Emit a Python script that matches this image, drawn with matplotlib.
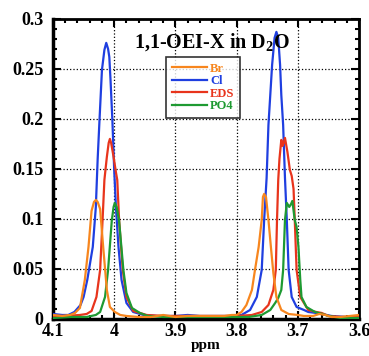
import numpy as np
import matplotlib
matplotlib.use("Agg")
import matplotlib.pyplot as plt
from matplotlib.ticker import MultipleLocator

plt.rcParams['font.family'] = ['Liberation Serif', 'DejaVu Serif']
plt.rcParams['font.weight'] = 'bold'
plt.rcParams['mathtext.fontset'] = 'custom'
plt.rcParams['mathtext.bf'] = 'Liberation Serif:bold'
plt.rcParams['mathtext.rm'] = 'Liberation Serif:bold'

# spectra: (ppm, intensity)
br_ppm = [4.100, 4.085, 4.072, 4.064, 4.056, 4.048, 4.042, 4.037, 4.033, 4.030, 4.027,
          4.023, 4.018, 4.012, 4.007, 3.999, 3.990, 3.980, 3.960, 3.940, 3.920, 3.900,
          3.880, 3.860, 3.840, 3.820, 3.808, 3.800, 3.792, 3.784, 3.775, 3.770, 3.764,
          3.759, 3.757, 3.755, 3.752, 3.748, 3.744, 3.740, 3.735, 3.727, 3.715, 3.700,
          3.690, 3.675, 3.665, 3.655, 3.645, 3.630, 3.615, 3.600]
br_val = [0.004, 0.003, 0.004, 0.006, 0.011, 0.039, 0.072, 0.108, 0.117, 0.119, 0.117,
          0.110, 0.072, 0.029, 0.012, 0.007, 0.004, 0.003, 0.002, 0.002, 0.004, 0.002,
          0.003, 0.003, 0.003, 0.003, 0.004, 0.004, 0.007, 0.014, 0.029, 0.049, 0.072,
          0.099, 0.122, 0.125, 0.122, 0.099, 0.072, 0.046, 0.022, 0.009, 0.005, 0.004,
          0.003, 0.003, 0.005, 0.004, 0.002, 0.002, 0.003, 0.004]

cl_ppm = [4.100, 4.085, 4.075, 4.065, 4.055, 4.050, 4.044, 4.035, 4.030, 4.027, 4.024,
          4.020, 4.016, 4.013, 4.010, 4.008, 4.006, 4.003, 4.000, 3.997, 3.993, 3.988,
          3.980, 3.969, 3.952, 3.930, 3.900, 3.880, 3.860, 3.830, 3.810, 3.792, 3.778,
          3.767, 3.759, 3.755, 3.751, 3.748, 3.745, 3.742, 3.738, 3.735, 3.732, 3.729,
          3.727, 3.724, 3.721, 3.718, 3.715, 3.710, 3.702, 3.690, 3.683, 3.670, 3.661,
          3.645, 3.620, 3.600]
cl_val = [0.005, 0.004, 0.004, 0.007, 0.014, 0.022, 0.039, 0.072, 0.112, 0.160, 0.199,
          0.249, 0.269, 0.276, 0.270, 0.262, 0.239, 0.199, 0.149, 0.110, 0.072, 0.039,
          0.016, 0.007, 0.004, 0.003, 0.003, 0.004, 0.003, 0.003, 0.003, 0.004, 0.009,
          0.022, 0.049, 0.099, 0.141, 0.194, 0.224, 0.254, 0.281, 0.287, 0.281, 0.254,
          0.224, 0.194, 0.141, 0.099, 0.049, 0.022, 0.012, 0.009, 0.007, 0.006, 0.005,
          0.003, 0.002, 0.002]

eds_ppm = [4.100, 4.080, 4.056, 4.045, 4.037, 4.029, 4.023, 4.019, 4.016, 4.012, 4.009,
           4.007, 4.005, 4.001, 3.997, 3.995, 3.992, 3.986, 3.980, 3.969, 3.947, 3.920,
           3.880, 3.840, 3.800, 3.775, 3.759, 3.748, 3.740, 3.736, 3.734, 3.732, 3.730,
           3.727, 3.725, 3.723, 3.721, 3.717, 3.713, 3.710, 3.707, 3.705, 3.702, 3.696,
           3.683, 3.670, 3.661, 3.650, 3.630, 3.600]
eds_val = [0.003, 0.003, 0.004, 0.005, 0.008, 0.022, 0.049, 0.099, 0.139, 0.162, 0.176,
           0.180, 0.176, 0.162, 0.146, 0.139, 0.099, 0.049, 0.022, 0.008, 0.004, 0.003,
           0.003, 0.003, 0.003, 0.004, 0.007, 0.014, 0.029, 0.049, 0.099, 0.139, 0.160,
           0.179, 0.173, 0.176, 0.181, 0.167, 0.149, 0.143, 0.130, 0.099, 0.049, 0.022,
           0.009, 0.007, 0.006, 0.003, 0.002, 0.002]

po4_ppm = [4.100, 4.070, 4.045, 4.030, 4.023, 4.015, 4.010, 4.004, 4.001, 3.999, 3.996,
           3.992, 3.985, 3.980, 3.971, 3.958, 3.945, 3.920, 3.880, 3.840, 3.800, 3.780,
           3.759, 3.745, 3.737, 3.732, 3.727, 3.724, 3.721, 3.718, 3.714, 3.711, 3.709,
           3.705, 3.702, 3.699, 3.696, 3.694, 3.686, 3.672, 3.660, 3.650, 3.630, 3.600]
po4_val = [0.001, 0.002, 0.002, 0.004, 0.007, 0.022, 0.049, 0.098, 0.112, 0.116, 0.112,
           0.098, 0.049, 0.026, 0.011, 0.006, 0.003, 0.002, 0.002, 0.002, 0.002, 0.002,
           0.004, 0.009, 0.016, 0.021, 0.029, 0.049, 0.099, 0.116, 0.112, 0.115, 0.118,
           0.099, 0.092, 0.072, 0.039, 0.022, 0.012, 0.007, 0.005, 0.003, 0.001, 0.001]

fig = plt.figure(figsize=(3.69, 3.56), dpi=100)
ax = fig.add_axes([0.1436, 0.104, 0.8294, 0.843])

ax.plot(cl_ppm, cl_val, color='#1f3fe0', lw=1.6, label='Cl', zorder=3)
ax.plot(eds_ppm, eds_val, color='#e8341c', lw=1.6, label='EDS', zorder=4)
ax.plot(po4_ppm, po4_val, color='#1e9a32', lw=1.6, label='PO4', zorder=5)
ax.plot(br_ppm, br_val, color='#f7861e', lw=1.6, label='Br', zorder=6)

ax.set_xlim(4.1, 3.6)
ax.set_ylim(0, 0.3)
ax.xaxis.set_major_locator(MultipleLocator(0.1))
ax.xaxis.set_minor_locator(MultipleLocator(0.02))
ax.yaxis.set_major_locator(MultipleLocator(0.05))
ax.yaxis.set_minor_locator(MultipleLocator(0.01))
ax.set_xticks([4.1, 4.0, 3.9, 3.8, 3.7, 3.6])
ax.set_xticklabels(['4.1', '4', '3.9', '3.8', '3.7', '3.6'])
ax.set_yticks([0, 0.05, 0.1, 0.15, 0.2, 0.25, 0.3])
ax.set_yticklabels(['0', '0.05', '0.1', '0.15', '0.2', '0.25', '0.3'])
ax.tick_params(which='both', direction='in', top=True, right=True, labelsize=13,
               width=1.5)
ax.tick_params(axis='x', pad=3)
ax.tick_params(axis='y', pad=7)
ax.tick_params(which='major', length=6)
ax.tick_params(which='minor', length=3)
for lab in ax.get_xticklabels() + ax.get_yticklabels():
    lab.set_fontweight('bold')
ax.grid(True, which='major', color='black', linestyle=':', lw=0.9)
for side in ['left', 'bottom']:
    ax.spines[side].set_linewidth(2.5)
for side in ['top', 'right']:
    ax.spines[side].set_linewidth(2)

ax.set_xlabel('ppm', fontsize=11, fontweight='bold', labelpad=-1)
ax.text(3.84, 0.277, '1,1-OEI-X in D$_{\\mathbf{2}}$O', ha='center', va='center',
        fontsize=14.5, fontweight='bold')

handles, labels = ax.get_legend_handles_labels()
order = [3, 0, 1, 2]
leg = ax.legend([handles[i] for i in order], [labels[i] for i in order],
                loc='upper left', bbox_to_anchor=(0.369, 0.873), borderaxespad=0,
                frameon=True, fancybox=False, edgecolor='black', handlelength=2.8,
                handletextpad=0.3, labelspacing=0.05, borderpad=0.45,
                prop={'weight': 'bold', 'size': 9})
leg.get_frame().set_linewidth(1.2)
for txt, h in zip(leg.get_texts(), leg.legend_handles):
    txt.set_color(h.get_color())

fig.savefig('out.png', dpi=100)
